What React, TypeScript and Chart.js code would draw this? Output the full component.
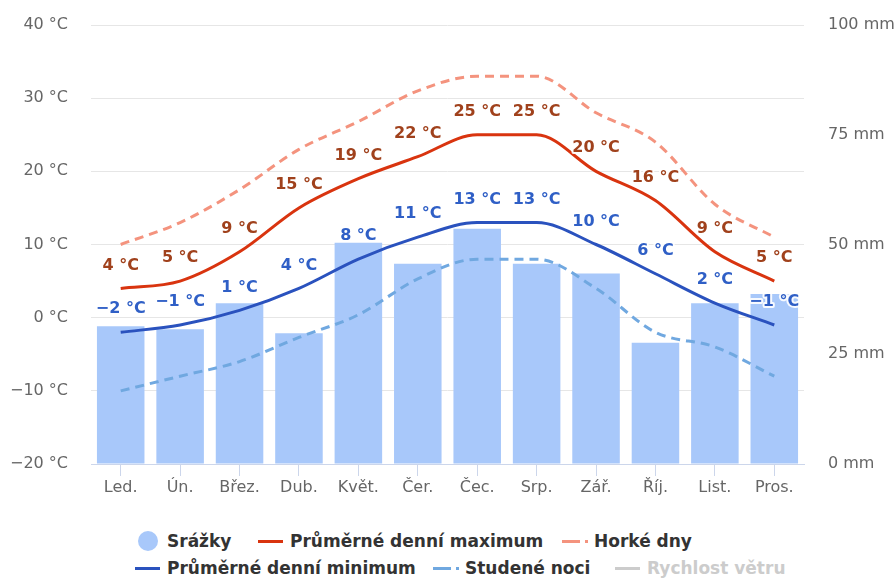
import React, { useEffect, useRef } from "react";
import { Chart, registerables } from "chart.js";

Chart.register(...registerables);

const months = ["Led.", "Ún.", "Břez.", "Dub.", "Květ.", "Čer.", "Čec.", "Srp.", "Zář.", "Říj.", "List.", "Pros."];
const precipitation = [31.4, 30.7, 36.6, 29.8, 50.4, 45.6, 53.6, 45.6, 43.4, 27.6, 36.6, 38.7];
const avgMax = [4, 5, 9, 15, 19, 22, 25, 25, 20, 16, 9, 5];
const avgMin = [-2, -1, 1, 4, 8, 11, 13, 13, 10, 6, 2, -1];
const hotDays = [10, 13, 17.5, 23, 26.8, 31, 33, 33, 28, 24, 15.5, 11];
const coldNights = [-10, -8, -6, -2.7, 0.4, 5.3, 8, 8, 4, -2, -4, -8];

const FONT = '"DejaVu Sans", Verdana, sans-serif';
const fmtT = (v: number) => `${v < 0 ? "\u2212" + Math.abs(v) : v} °C`;

const labelColors: Record<number, string> = { 1: "#a0411c", 3: "#2f5fc6" };

const valueLabels = {
  id: "valueLabels",
  afterDatasetsDraw(chart: any) {
    const ctx = chart.ctx;
    chart.data.datasets.forEach((ds: any, i: number) => {
      const color = labelColors[i];
      if (!color) return;
      const meta = chart.getDatasetMeta(i);
      meta.data.forEach((pt: any, j: number) => {
        const txt = fmtT(ds.data[j]);
        ctx.save();
        ctx.font = `bold 16px ${FONT}`;
        ctx.textAlign = "center";
        ctx.textBaseline = "middle";
        ctx.lineJoin = "round";
        ctx.lineWidth = 4;
        ctx.strokeStyle = "rgba(255,255,255,0.9)";
        ctx.strokeText(txt, pt.x, pt.y - 23);
        ctx.fillStyle = color;
        ctx.fillText(txt, pt.x, pt.y - 23);
        ctx.restore();
      });
    });
  },
};

type LegendItem = { x: number; y: number; kind: "circle" | "line" | "dashdot"; color: string; text: string; muted?: boolean };
const legendItems: LegendItem[] = [
  { x: 135, y: 541, kind: "circle", color: "#a8c8fa", text: "Srážky" },
  { x: 258, y: 541, kind: "line", color: "#d9340f", text: "Průměrné denní maximum" },
  { x: 562, y: 541, kind: "dashdot", color: "#f4937e", text: "Horké dny" },
  { x: 135, y: 568, kind: "line", color: "#2a52be", text: "Průměrné denní minimum" },
  { x: 433, y: 568, kind: "dashdot", color: "#70a8e0", text: "Studené noci" },
  { x: 615, y: 568, kind: "line", color: "#cccccc", text: "Rychlost větru", muted: true },
];

function Symbol({ kind, color }: { kind: string; color: string }) {
  if (kind === "circle") {
    return (
      <span style={{ position: "absolute", left: 3, top: -10, width: 20, height: 20, borderRadius: 10, background: color }} />
    );
  }
  if (kind === "line") {
    return <span style={{ position: "absolute", left: 0, top: -1.5, width: 25, height: 3, background: color }} />;
  }
  return (
    <>
      <span style={{ position: "absolute", left: 0, top: -1.5, width: 18, height: 3, background: color }} />
      <span style={{ position: "absolute", left: 23, top: -1.5, width: 3, height: 3, background: color }} />
    </>
  );
}

export default function App() {
  const ref = useRef<HTMLCanvasElement>(null);

  useEffect(() => {
    document.body.style.margin = "0";
    const canvas = ref.current;
    if (!canvas) return;
    const fitV = (w: number) => (s: any) => {
      s.width = w;
      s.paddingTop = 0;
      s.paddingBottom = 0;
    };
    const chart = new Chart(canvas, {
      type: "bar",
      data: {
        labels: months,
        datasets: [
          {
            type: "bar",
            label: "Srážky",
            data: precipitation,
            yAxisID: "y2",
            backgroundColor: "#a8c8fa",
            borderWidth: 0,
            barPercentage: 0.8,
            categoryPercentage: 1,
            order: 10,
          },
          {
            type: "line",
            label: "Průměrné denní maximum",
            data: avgMax,
            yAxisID: "y",
            borderColor: "#d9340f",
            borderWidth: 3,
            pointRadius: 0,
            cubicInterpolationMode: "monotone",
            order: 2,
          },
          {
            type: "line",
            label: "Horké dny",
            data: hotDays,
            yAxisID: "y",
            borderColor: "#f4937e",
            borderWidth: 3,
            borderDash: [9, 6],
            pointRadius: 0,
            cubicInterpolationMode: "monotone",
            order: 3,
          },
          {
            type: "line",
            label: "Průměrné denní minimum",
            data: avgMin,
            yAxisID: "y",
            borderColor: "#2a52be",
            borderWidth: 3,
            pointRadius: 0,
            cubicInterpolationMode: "monotone",
            order: 1,
          },
          {
            type: "line",
            label: "Studené noci",
            data: coldNights,
            yAxisID: "y",
            borderColor: "#70a8e0",
            borderWidth: 3,
            borderDash: [9, 6],
            pointRadius: 0,
            cubicInterpolationMode: "monotone",
            order: 4,
          },
        ] as any,
      },
      options: {
        animation: false,
        responsive: false,
        maintainAspectRatio: false,
        layout: { padding: { top: 25, left: 0, right: 0, bottom: 0 } },
        plugins: { legend: { display: false }, tooltip: { enabled: false } },
        scales: {
          x: {
            offset: true,
            grid: { offset: false, drawOnChartArea: false, tickLength: 12, color: "#ccd6eb" },
            border: { display: true, color: "#ccd6eb" },
            ticks: { color: "#666666", font: { family: FONT, size: 16 }, padding: 2 },
            afterFit: (s: any) => {
              s.height = 46;
            },
          },
          y: {
            position: "left",
            min: -20,
            max: 40,
            ticks: { stepSize: 10, color: "#666666", font: { family: FONT, size: 16 }, padding: 23, callback: (v: any) => fmtT(Number(v)) },
            grid: { color: "#e6e6e6", drawTicks: false },
            border: { display: false },
            afterFit: fitV(91),
          },
          y2: {
            position: "right",
            min: 0,
            max: 100,
            ticks: { stepSize: 25, color: "#666666", font: { family: FONT, size: 16 }, padding: 24, callback: (v: any) => `${v} mm` },
            grid: { drawOnChartArea: false, drawTicks: false },
            border: { display: false },
            afterFit: fitV(90),
          },
        },
      } as any,
      plugins: [valueLabels],
    });
    return () => chart.destroy();
  }, []);

  return (
    <div style={{ position: "relative", width: 894, height: 579, fontFamily: FONT, background: "#fff" }}>
      <canvas ref={ref} width={894} height={510} style={{ position: "absolute", left: 0, top: 0 }} />
      {legendItems.map((it, i) => (
        <div key={i} style={{ position: "absolute", left: it.x, top: it.y, height: 0 }}>
          <Symbol kind={it.kind} color={it.color} />
          <span
            style={{
              position: "absolute",
              left: 32,
              top: -12,
              whiteSpace: "nowrap",
              fontWeight: "bold",
              fontSize: 17,
              lineHeight: "24px",
              color: it.muted ? "#cccccc" : "#333333",
            }}
          >
            {it.text}
          </span>
        </div>
      ))}
    </div>
  );
}
